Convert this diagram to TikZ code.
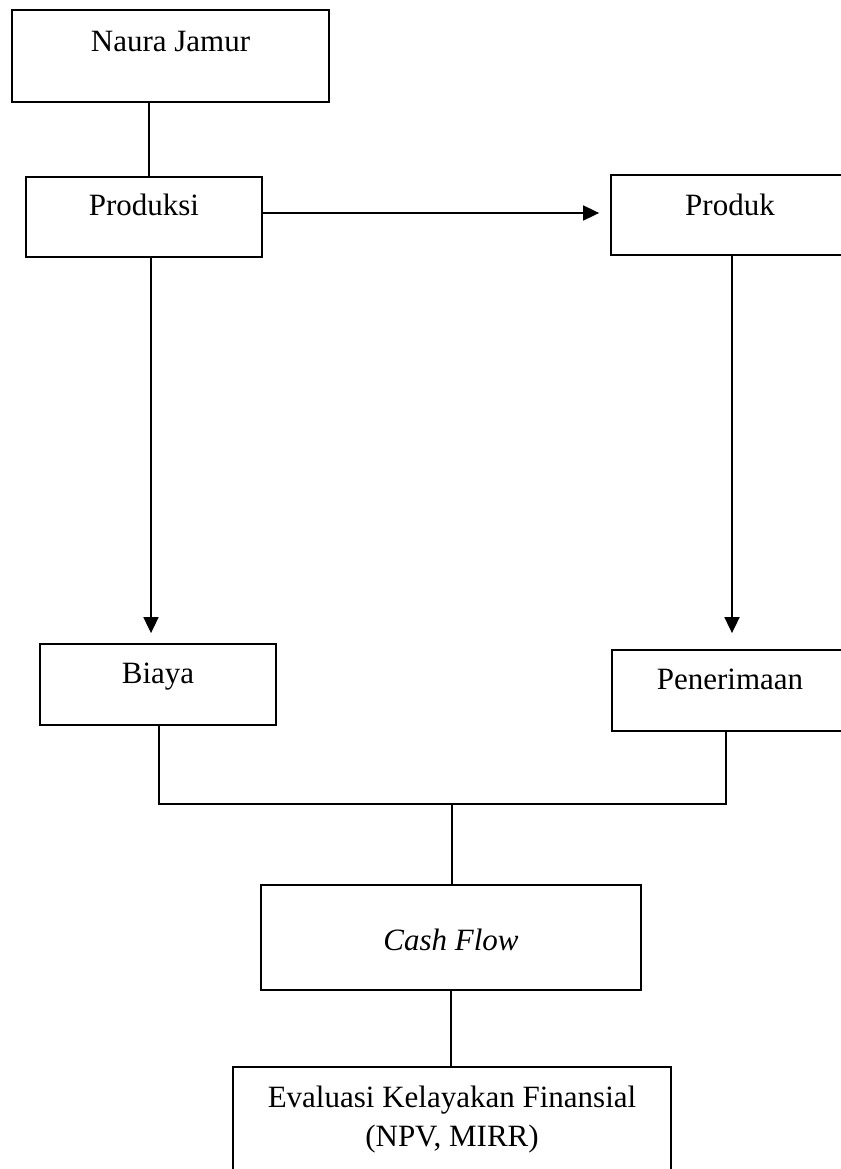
\documentclass[tikz,border=0pt]{standalone}
\usepackage{fontspec}
\setmainfont{Liberation Serif}
\usetikzlibrary{arrows.meta}
\begin{document}
\begin{tikzpicture}[x=1pt,y=-1pt,line width=1.8pt,
  box/.style={draw,line width=1.8pt,inner sep=0pt},
  txt/.style={anchor=base,inner sep=0pt,font=\fontsize{31}{39}\selectfont},
  arr/.style={-{Triangle[length=16pt,width=15pt]}}]
\useasboundingbox (0,0) rectangle (840,1169);
% boxes
\node[box,minimum width=317pt,minimum height=92pt] (naura) at (170.5,56) {};
\node[box,minimum width=236pt,minimum height=80pt] (produksi) at (144,217) {};
\node[box,minimum width=238pt,minimum height=80pt] (produk) at (730,215) {};
\node[box,minimum width=236pt,minimum height=81pt] (biaya) at (158,684.5) {};
\node[box,minimum width=236pt,minimum height=81pt] (penerimaan) at (730,690.5) {};
\node[box,minimum width=380pt,minimum height=105pt] (cashflow) at (451,937.5) {};
\node[box,minimum width=438pt,minimum height=140pt] (evaluasi) at (452,1137) {};
% texts
\node[txt] (tnaura) at (170.5,52) {Naura Jamur};
\node[txt] (tproduksi) at (144,215) {Produksi};
\node[txt] (tproduk) at (730,215) {Produk};
\node[txt] (tbiaya) at (158,683) {Biaya};
\node[txt] (tpenerimaan) at (730,689) {Penerimaan};
\node[txt] (tcash) at (451,950) {\itshape Cash Flow};
\node[txt] (teval1) at (452,1107) {Evaluasi Kelayakan Finansial};
\node[txt] (teval2) at (452,1146) {(NPV, MIRR)};
% connectors
\draw ([xshift=5pt]produksi.north) -- ([xshift=5pt]produksi.north |- naura.south);
\draw[arr,shorten >=11pt] ([yshift=4pt]produksi.east) -- ([yshift=4pt]produksi.east -| produk.west);
\draw[arr,shorten >=10pt] ([xshift=7pt]produksi.south) -- ([xshift=7pt]produksi.south |- biaya.north);
\draw[arr,shorten >=16pt] ([xshift=2pt]produk.south) -- ([xshift=2pt]produk.south |- penerimaan.north);
\coordinate (j) at (452,804);
\draw ([xshift=1pt]biaya.south) |- (j) -| ([xshift=-4pt]penerimaan.south);
\draw (j) -- (j |- cashflow.north);
\draw (cashflow.south) -- (cashflow.south |- evaluasi.north);
\end{tikzpicture}
\end{document}
